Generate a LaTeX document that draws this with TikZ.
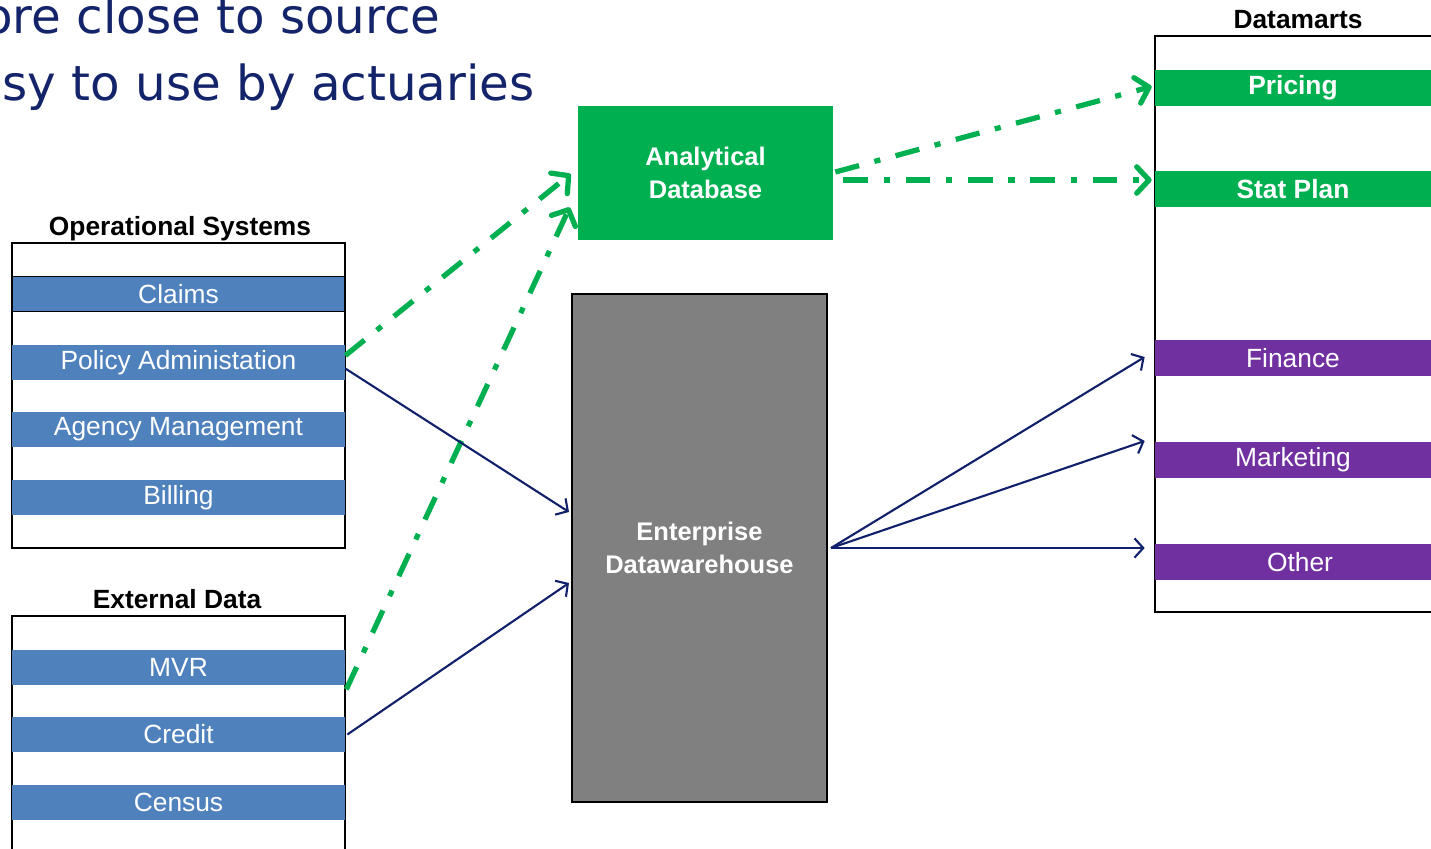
\documentclass[tikz,border=0pt]{standalone}
\usepackage{fontspec}
\setmainfont{Liberation Sans}
\newfontfamily\headfont{DejaVu Sans}
\usepackage{xcolor}
\usetikzlibrary{arrows.meta,calc}
\definecolor{barblue}{HTML}{4F81BD}
\definecolor{martgreen}{HTML}{00B050}
\definecolor{martpurple}{HTML}{7030A0}
\definecolor{feednavy}{HTML}{10206A}
\definecolor{headnavy}{HTML}{14246B}

\begin{document}
\begin{tikzpicture}[x=0.02cm, y=-0.02cm,
  bar/.style={fill=barblue, text=white, minimum width=6.66cm, minimum height=0.7cm, inner sep=0, font=\fontsize{15}{18}\selectfont},
  martbar/.style={text=white, minimum width=5.52cm, minimum height=0.72cm, inner sep=0, font=\fontsize{15}{18}\selectfont},
  header/.style={font=\bfseries\fontsize{15}{18}\selectfont, inner sep=0, anchor=base},
  store/.style={text=white, align=center, inner sep=0, font=\bfseries\fontsize{14.5}{19}\selectfont},
  feed/.style={feednavy, line width=1.2pt, -{Straight Barb[length=5pt,width=11pt]}},
  fastfeed/.style={martgreen, line width=3pt, dash pattern=on 14pt off 9pt on 3.5pt off 9pt, -{Straight Barb[length=7pt,width=15pt,round]}}]
\useasboundingbox (0,0) rectangle (1431,849);
\clip (0,0) rectangle (1431,849);

\node[anchor=base east, inner sep=0, text=headnavy, font=\headfont\fontsize{27.5}{32}\selectfont] (bullet1) at (441,33) {ore close to source};
\node[anchor=base east, inner sep=0, text=headnavy, font=\headfont\fontsize{27.5}{32}\selectfont] (bullet2) at (535,100) {asy to use by actuaries};

\node[header] (opstitle) at (180,235) {Operational Systems};
\draw[line width=1pt] (12,243) rectangle (345,548);
\node[bar, draw=black, line width=1pt] (claims) at (178.5,294) {Claims};
\node[bar] (pol) at (178.5,362.5) {Policy Administation};
\node[bar] (agency) at (178.5,429.5) {Agency Management};
\node[bar] (billing) at (178.5,497.5) {Billing};

\node[header] (exttitle) at (177,608) {External Data};
\draw[line width=1pt] (12,616) rectangle (345,870);
\node[bar] (mvr) at (178.5,667.5) {MVR};
\node[bar] (credit) at (178.5,734.5) {Credit};
\node[bar] (census) at (178.5,802.5) {Census};

\node[store, fill=martgreen, minimum width=5.1cm, minimum height=2.68cm] (ana) at (705.5,173) {Analytical\\Database};
\node[store, fill=gray, draw=black, line width=1.2pt, minimum width=5.1cm, minimum height=10.16cm] (edw) at (699.5,548) {Enterprise\\Datawarehouse};

\node[header] (marttitle) at (1298,28) {Datamarts};
\draw[line width=1pt] (1155,36) rectangle (1445,612);
\node[martbar, fill=martgreen, font=\bfseries\fontsize{15}{18}\selectfont] (pricing) at (1293,87.5) {Pricing};
\node[martbar, fill=martgreen, font=\bfseries\fontsize{15}{18}\selectfont] (statplan) at (1293,189) {Stat Plan};
\node[martbar, fill=martpurple] (fin) at (1293,358) {Finance};
\node[martbar, fill=martpurple] (mkt) at (1293,460) {Marketing};
\node[martbar, fill=martpurple, text width=5.52cm, align=center] (other) at (1293,562) {\hspace*{8pt}Other};

\draw[fastfeed] ($(pol.east)+(0,-7)$) -- ($(ana.west)+(-7,1)$);
\draw[fastfeed] ($(mvr.south east)+(1,4)$) -- ($(ana.south west)+(-8,-33)$);
\draw[fastfeed] ($(ana.east)+(2,-1)$) -- ($(pricing.west)+(-3,-1)$);
\draw[fastfeed] ($(ana.east)+(10,7)$) -- ($(statplan.west)+(-3,-9)$);

\draw[feed] ($(pol.east)+(0,6)$) -- ($(edw.west)+(-2,-36)$);
\draw[feed] ($(credit.east)+(2,0)$) -- ($(edw.west)+(-2,35)$);
\foreach \mart/\dy in {fin/-1, mkt/-19, other/-14}
  \draw[feed] ($(edw.east)+(3,0)$) -- ($(\mart.west)+(-10,\dy)$);
\end{tikzpicture}
\end{document}
